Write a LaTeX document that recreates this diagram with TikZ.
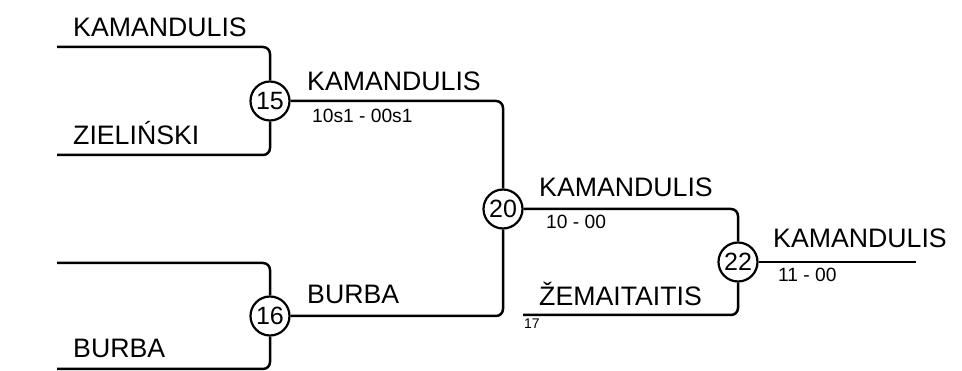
\documentclass[tikz,border=0pt]{standalone}
\usepackage{fontspec}
\setmainfont{Liberation Sans}
\usetikzlibrary{calc}
\tikzset{
  match/.style={circle,draw,line width=2.2pt,minimum size=39pt,inner sep=0pt,fill=white,font=\fontsize{25}{25}\selectfont},
  player/.style={anchor=base west,inner sep=0pt,font=\fontsize{26.7}{30}\selectfont},
  result/.style={anchor=base west,inner sep=0pt,font=\fontsize{19.2}{22}\selectfont},
  seed/.style={anchor=base west,inner sep=0pt,font=\fontsize{14}{16}\selectfont},
  bline/.style={line width=2.5pt,rounded corners=7pt}
}
\begin{document}
\begin{tikzpicture}[x=1pt,y=-1pt,line join=round]
  \useasboundingbox (0,0) rectangle (962,371);
  % match circles
  \node[match] (m15) at (270,101) {15}; \node[match] (m16) at (270,316) {16};
  \node[match] (m20) at (503,209) {20}; \node[match] (m22) at (738,262) {22};
  % free line ends
  \coordinate (e1) at (57,47); \coordinate (e2) at (57,155);
  \coordinate (e3) at (57,263); \coordinate (e4) at (57,369);
  \coordinate (e5) at (523,315); \coordinate (e6) at (916,262);
  \draw[bline] (e1) -| (m15.north); \draw[bline] (e2) -| (m15.south);
  \draw[bline] (e3) -| (m16.north); \draw[bline] (e4) -| (m16.south);
  \draw[bline] (m15.east) -| (m20.north); \draw[bline] (m16.east) -| (m20.south);
  \draw[bline] (m20.east) -| (m22.north); \draw[bline] (e5) -| (m22.south);
  \draw[bline] (m22.east) -- (e6);
  % names and scores
  \node[player] (p1) at (73,37) {KAMANDULIS}; \node[player] (p2) at (73,145) {ZIELIŃSKI};
  \node[player] (p4) at (73,358) {BURBA};
  \node[player] (w15) at (307,91) {KAMANDULIS}; \node[result] (s15) at (312,123) {10s1 - 00s1};
  \node[player] (w16) at (307,304) {BURBA};
  \node[player] (w20) at (539,197) {KAMANDULIS}; \node[result] (s20) at (546,229) {10 - 00};
  \node[player] (p17) at (539,306) {ŽEMAITAITIS}; \node[seed] (n17) at (524,329) {17};
  \node[player] (w22) at (773,248) {KAMANDULIS}; \node[result] (s22) at (778,282) {11 - 00};
\end{tikzpicture}
\end{document}
